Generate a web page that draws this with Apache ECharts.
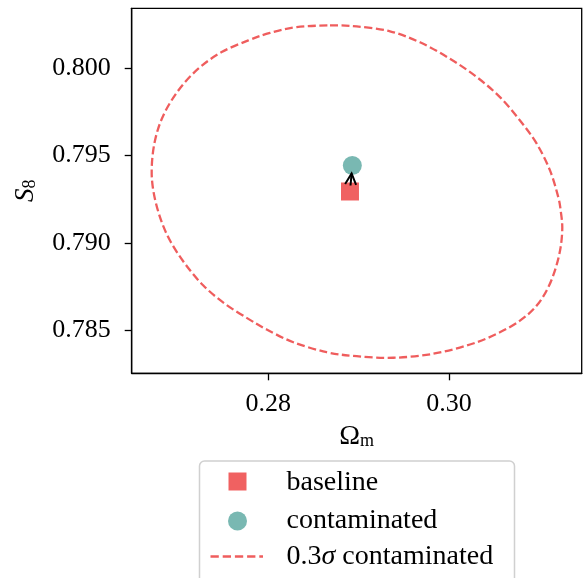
<!DOCTYPE html>
<html>
<head>
<meta charset="utf-8">
<script src="https://cdn.jsdelivr.net/npm/echarts@6/dist/echarts.min.js"></script>
<style>html,body{margin:0;padding:0;background:#fff;}#c{width:583px;height:578px;}</style>
</head>
<body>
<div id="c"></div>
<script>
// ---- data ----
var xTicks = [0.28, 0.30];
var yTicks = [0.785, 0.790, 0.795, 0.800];
var baseline = [[0.28904, 0.79294]];
var contaminated = [[0.2893, 0.79443]];
var shiftArrow = [[0.28904, 0.79294, 0.2893, 0.79443]];
var contourX = [0.28683,0.28978,0.29347,0.29679,0.30011,0.30307,0.30564,0.30786,0.30971,0.31118,0.31210,0.31236,0.31254,0.31236,0.31184,0.31099,0.30971,0.30786,0.30528,0.30232,0.29826,0.29384,0.28978,0.28646,0.28277,0.27982,0.27779,0.27521,0.27281,0.27078,0.26912,0.26801,0.26727,0.26710,0.26746,0.26838,0.27004,0.27225,0.27484,0.27779,0.28019,0.28314];
var contourY = [0.80246,0.80240,0.80212,0.80149,0.80055,0.79950,0.79835,0.79701,0.79568,0.79415,0.79261,0.79185,0.79089,0.78975,0.78860,0.78745,0.78640,0.78554,0.78478,0.78417,0.78364,0.78341,0.78350,0.78373,0.78430,0.78503,0.78564,0.78650,0.78755,0.78880,0.79013,0.79147,0.79300,0.79434,0.79587,0.79730,0.79873,0.79998,0.80093,0.80160,0.80203,0.80236];
var legendLabels = ['baseline', 'contaminated', '0.3σ contaminated'];

var RED = '#f06161', TEAL = '#79b8b2', LINE = '#ef5d5d';
var FONT = 'Liberation Serif';
var contour = contourX.map(function (x, i) { return [x, contourY[i]]; });

var chart = echarts.init(document.getElementById('c'), null, {renderer: 'canvas'});
var option = {
  animation: false,
  grid: {left: 131.7, right: 1.3, top: 8.3, bottom: 204.7, show: true, borderColor: '#000', borderWidth: 1.3, backgroundColor: 'transparent'},
  xAxis: {
    type: 'value', min: 0.26488, max: 0.31469,
    name: '{o|Ω}{s|m}', nameLocation: 'middle', nameGap: 49,
    nameTextStyle: {fontFamily: FONT, color: '#000', rich: {o: {fontSize: 28, fontFamily: FONT}, s: {fontSize: 18, fontFamily: FONT, padding: [10, 0, 0, 0]}}},
    axisLine: {show: true, lineStyle: {color: '#000', width: 1.3}},
    axisTick: {show: true, length: 7, lineStyle: {color: '#000', width: 1.3}, customValues: xTicks},
    axisLabel: {margin: 18, fontFamily: FONT, fontSize: 26, color: '#000', customValues: xTicks, formatter: function (v) { return v.toFixed(2); }},
    splitLine: {show: false}
  },
  yAxis: {
    type: 'value', min: 0.78252, max: 0.80344,
    name: '{i|S}{s|8}', nameLocation: 'middle', nameGap: 92, nameRotate: 90,
    nameTextStyle: {fontFamily: FONT, color: '#000', rich: {i: {fontSize: 27, fontStyle: 'italic', fontFamily: FONT}, s: {fontSize: 18, fontFamily: FONT, padding: [10, 0, 0, 0]}}},
    axisLine: {show: true, lineStyle: {color: '#000', width: 1.3}},
    axisTick: {show: true, length: 7, lineStyle: {color: '#000', width: 1.3}, customValues: yTicks},
    axisLabel: {margin: 21, fontFamily: FONT, fontSize: 26, color: '#000', customValues: yTicks, formatter: function (v) { return v.toFixed(3); }},
    splitLine: {show: false}
  },
  series: [
    {name: legendLabels[2], type: 'custom', data: contour, z: 2, encode: {x: 0, y: 1},
     renderItem: function (params, api) {
       if (params.dataIndex !== 0) return null;
       var pts = contour.map(function (d) { return api.coord(d); });
       var n = pts.length;
       var f = function (v) { return v.toFixed(2); };
       var d = 'M' + f(pts[0][0]) + ' ' + f(pts[0][1]);
       for (var i = 0; i < n; i++) {
         var p0 = pts[(i - 1 + n) % n], p1 = pts[i], p2 = pts[(i + 1) % n], p3 = pts[(i + 2) % n];
         var c1 = [p1[0] + (p2[0] - p0[0]) / 6, p1[1] + (p2[1] - p0[1]) / 6];
         var c2 = [p2[0] - (p3[0] - p1[0]) / 6, p2[1] - (p3[1] - p1[1]) / 6];
         d += ' C' + f(c1[0]) + ' ' + f(c1[1]) + ' ' + f(c2[0]) + ' ' + f(c2[1]) + ' ' + f(p2[0]) + ' ' + f(p2[1]);
       }
       d += ' Z';
       return {type: 'path', shape: {pathData: d}, style: {fill: null, stroke: LINE, lineWidth: 2.3, lineDash: [8, 3.5]}};
     }},
    {name: legendLabels[0], type: 'scatter', data: baseline, symbol: 'rect', symbolSize: 18, z: 3,
     itemStyle: {color: RED, opacity: 1}},
    {name: legendLabels[1], type: 'scatter', data: contaminated, symbol: 'circle', symbolSize: 19, z: 4,
     itemStyle: {color: TEAL, opacity: 1}},
    {name: 'shift', type: 'custom', data: shiftArrow, z: 5, encode: {x: [0, 2], y: [1, 3]},
     renderItem: function (params, api) {
       var p0 = api.coord([api.value(0), api.value(1)]);
       var p1 = api.coord([api.value(2), api.value(3)]);
       var dx = p1[0] - p0[0], dy = p1[1] - p0[1];
       var L = Math.sqrt(dx * dx + dy * dy); var ux = dx / L, uy = dy / L;
       var s = [p0[0] + ux * 6, p0[1] + uy * 6];
       var e = [p1[0] - ux * 8, p1[1] - uy * 8];
       var hl = 11, hw = 5.5;
       var b = [e[0] - ux * hl, e[1] - uy * hl];
       var w1 = [b[0] - uy * hw, b[1] + ux * hw];
       var w2 = [b[0] + uy * hw, b[1] - ux * hw];
       return {type: 'group', children: [
         {type: 'line', shape: {x1: s[0], y1: s[1], x2: e[0], y2: e[1]}, style: {stroke: '#000', lineWidth: 2}},
         {type: 'polyline', shape: {points: [w1, e, w2]}, style: {stroke: '#000', lineWidth: 2, fill: null}}
       ]};
     }}
  ],
  graphic: [
    {type: 'rect', shape: {x: 199.5, y: 461, width: 315, height: 140, r: 5}, style: {fill: '#fff', stroke: '#d0d0d0', lineWidth: 1.5}, z: 10},
    {type: 'rect', shape: {x: 228.5, y: 472.5, width: 18, height: 18}, style: {fill: RED}, z: 11},
    {type: 'circle', shape: {cx: 237.5, cy: 521, r: 9.5}, style: {fill: TEAL}, z: 11},
    {type: 'line', shape: {x1: 210.5, y1: 556.5, x2: 263, y2: 556.5}, style: {stroke: LINE, lineWidth: 2.3, lineDash: [8.3, 3.9]}, z: 11},
    {type: 'text', x: 286.5, y: 483, style: {text: legendLabels[0], font: '28px "Liberation Serif"', fill: '#000', verticalAlign: 'middle'}, z: 11},
    {type: 'text', x: 286.5, y: 521, style: {text: legendLabels[1], font: '28px "Liberation Serif"', fill: '#000', verticalAlign: 'middle'}, z: 11},
    {type: 'text', x: 286.5, y: 557, style: {text: '{a|0.3}{b|σ}{a| contaminated}', fill: '#000', verticalAlign: 'middle',
      rich: {a: {fontFamily: FONT, fontSize: 28, fill: '#000'}, b: {fontFamily: FONT, fontSize: 28, fontStyle: 'italic', fill: '#000'}}}, z: 11}
  ]
};
chart.setOption(option);
</script>
</body>
</html>
